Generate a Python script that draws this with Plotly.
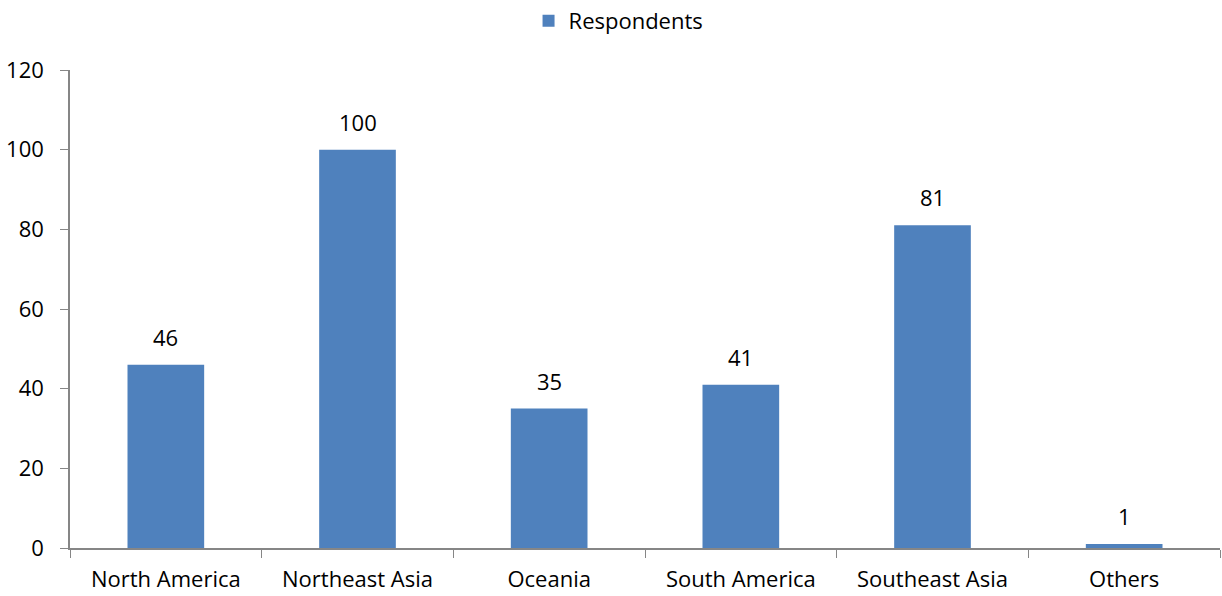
import plotly.graph_objects as go

categories = ["North America", "Northeast Asia", "Oceania", "South America", "Southeast Asia", "Others"]
respondents = [46, 100, 35, 41, 81, 1]
y_ticks = [0, 20, 40, 60, 80, 100, 120]

font_family = "Open Sans, Liberation Sans, sans-serif"
axis_color = "#868686"
fsize = 22

fig = go.Figure()
fig.add_trace(go.Bar(
    x=categories, y=respondents, name="Respondents",
    marker=dict(color="#4F81BD", line=dict(width=0)),
    showlegend=True,
))
for c, v in zip(categories, respondents):
    fig.add_annotation(x=c, y=v, text=str(v), showarrow=False, yanchor="middle",
                       yshift=28, font=dict(size=fsize, color="black", family=font_family))
fig.update_layout(
    width=1222, height=596,
    margin=dict(l=70, r=2, t=70, b=48),
    paper_bgcolor="white", plot_bgcolor="white",
    bargap=0.6,
    font=dict(family=font_family, size=fsize, color="black"),
    showlegend=True,
    legend=dict(orientation="h", x=0.477, xanchor="center", y=1.0, yanchor="top",
                yref="container", font=dict(size=fsize), itemwidth=30),
    xaxis=dict(showline=True, linecolor=axis_color, linewidth=1.5,
               ticks="outside", tickson="boundaries", ticklen=8, tickcolor=axis_color,
               showgrid=False, tickfont=dict(size=fsize), ticklabelstandoff=11),
    yaxis=dict(range=[0, 120], tickvals=y_ticks, showline=True, linecolor=axis_color,
               linewidth=1.5, ticks="outside", ticklen=8, tickcolor=axis_color,
               showgrid=False, zeroline=False, tickfont=dict(size=fsize), ticklabelstandoff=12),
)
fig.write_html("out.html")
